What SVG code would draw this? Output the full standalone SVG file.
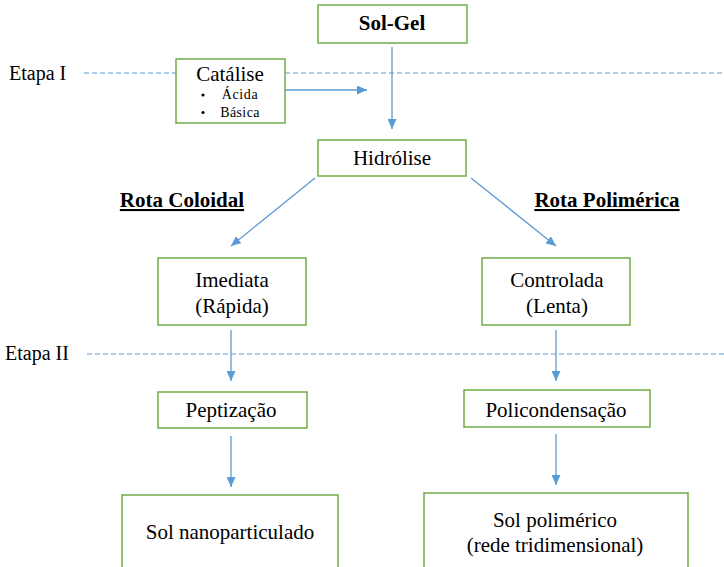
<svg xmlns="http://www.w3.org/2000/svg" width="724" height="567" viewBox="0 0 724 567" font-family="'Liberation Serif', 'Times New Roman', 'DejaVu Serif', serif">
<style>
.box{fill:#fff;stroke:#70AD47;stroke-width:1.5}
text{font-family:'Liberation Serif','Times New Roman','DejaVu Serif',serif}
.t{font-size:21px;fill:#000;text-anchor:middle}
.b{font-weight:bold}
.s{font-size:14px}
.lab{font-size:20px;fill:#000}
.c{stroke:#5B9BD5;stroke-width:1.3;fill:none}
.d{stroke:#5B9BD5;stroke-width:1.2;fill:none;stroke-dasharray:5,3}
</style>
<defs>
<marker id="ah" markerUnits="userSpaceOnUse" markerWidth="10" markerHeight="9" viewBox="0 0 10 9" refX="10" refY="4.5" orient="auto">
<path d="M0,0 L10,4.5 L0,9 z" fill="#5B9BD5"/>
</marker>
</defs>
<g id="stages">
<text class="lab" x="9" y="80">Etapa I</text>
<text class="lab" x="5" y="360">Etapa II</text>
<line class="d" x1="84" y1="73" x2="176" y2="73"/>
<line class="d" x1="285" y1="73" x2="724" y2="73"/>
<line class="d" x1="87" y1="354" x2="724" y2="354"/>
</g>
<g id="connectors">
<line class="c" x1="392" y1="47" x2="392" y2="129" marker-end="url(#ah)"/>
<line class="c" x1="285" y1="90" x2="367" y2="90" marker-end="url(#ah)"/>
<line class="c" x1="315" y1="178" x2="231" y2="246" marker-end="url(#ah)"/>
<line class="c" x1="471" y1="178" x2="556" y2="246" marker-end="url(#ah)"/>
<line class="c" x1="231" y1="330" x2="231" y2="381" marker-end="url(#ah)"/>
<line class="c" x1="556" y1="330" x2="556" y2="381" marker-end="url(#ah)"/>
<line class="c" x1="231" y1="436" x2="231" y2="487" marker-end="url(#ah)"/>
<line class="c" x1="556" y1="434" x2="556" y2="485" marker-end="url(#ah)"/>
</g>
<g id="solgel">
<rect class="box" x="318" y="5" width="149" height="38"/>
<text class="t b" x="392" y="30">Sol-Gel</text>
</g>
<g id="catalise">
<rect class="box" x="176" y="59" width="109" height="64"/>
<text class="t" x="230" y="81">Catálise</text>
<circle cx="203" cy="95" r="1.6" fill="#000"/>
<circle cx="203" cy="112.5" r="1.6" fill="#000"/>
<text class="t s" x="240" y="99" letter-spacing="0.6">Ácida</text>
<text class="t s" x="240" y="117" letter-spacing="0.4">Básica</text>
</g>
<g id="hidrolise">
<rect class="box" x="318" y="140" width="148" height="36"/>
<text class="t" x="392" y="165">Hidrólise</text>
</g>
<g id="rota-coloidal">
<text class="t b" x="182" y="207" text-decoration="underline">Rota Coloidal</text>
</g>
<g id="rota-polimerica">
<text class="t b" x="607" y="207" text-decoration="underline">Rota Polimérica</text>
</g>
<g id="imediata">
<rect class="box" x="158" y="258" width="148" height="67"/>
<text class="t" x="232" y="287">Imediata</text>
<text class="t" x="232" y="313">(Rápida)</text>
</g>
<g id="controlada">
<rect class="box" x="482" y="258" width="148" height="67"/>
<text class="t" x="557" y="287">Controlada</text>
<text class="t" x="557" y="313">(Lenta)</text>
</g>
<g id="peptizacao">
<rect class="box" x="158" y="392" width="149" height="36"/>
<text class="t" x="231" y="417">Peptização</text>
</g>
<g id="policondensacao">
<rect class="box" x="464" y="390" width="186" height="37"/>
<text class="t" x="556" y="417">Policondensação</text>
</g>
<g id="sol-nano">
<rect class="box" x="122" y="495" width="216" height="80"/>
<text class="t" x="230" y="539">Sol nanoparticulado</text>
</g>
<g id="sol-polimerico">
<rect class="box" x="424" y="493" width="264" height="82"/>
<text class="t" x="555" y="527">Sol polimérico</text>
<text class="t" x="555" y="552">(rede tridimensional)</text>
</g>
</svg>
